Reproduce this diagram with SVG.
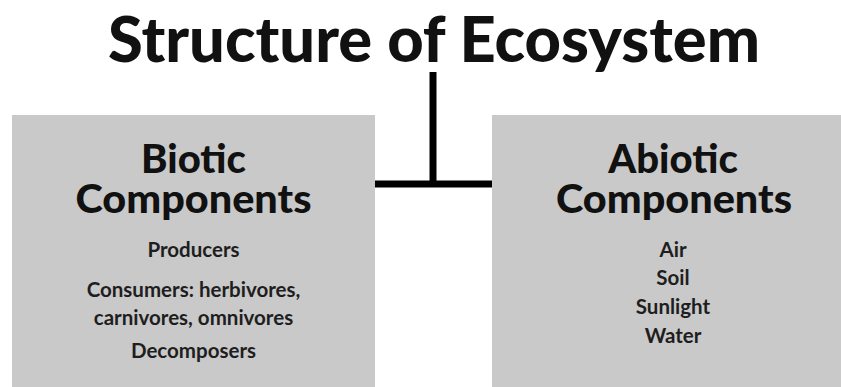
<svg xmlns="http://www.w3.org/2000/svg" width="841" height="387" viewBox="0 0 841 387">
<style>
.box{fill:#c9c9c9}
.title{font-family:Lato,"Liberation Sans",sans-serif;font-weight:900;font-size:62px;fill:#111;text-anchor:middle}
.head{font-family:Lato,"Liberation Sans",sans-serif;font-weight:900;font-size:40px;fill:#111;text-anchor:middle}
.item{font-family:Lato,"Liberation Sans",sans-serif;font-weight:700;font-size:20.5px;fill:#1e1e1e;text-anchor:middle}
.conn{stroke:#000;stroke-width:7;fill:none}
</style>
<rect width="841" height="387" fill="#fff"/>
<g id="title"><text class="title" x="434" y="62" textLength="652" lengthAdjust="spacingAndGlyphs">Structure of Ecosystem</text></g>
<g id="connectors">
<line class="conn" x1="433" y1="72" x2="433" y2="185"/>
<line class="conn" x1="375" y1="184" x2="492" y2="184"/>
</g>
<g id="biotic">
<rect class="box" x="12" y="115" width="363" height="272"/>
<text class="head" x="193.5" y="173">Biotic</text>
<text class="head" x="193.5" y="213" textLength="236" lengthAdjust="spacingAndGlyphs">Components</text>
<text class="item" x="193.5" y="257">Producers</text>
<text class="item" x="193.5" y="297">Consumers: herbivores,</text>
<text class="item" x="193.5" y="325">carnivores, omnivores</text>
<text class="item" x="193.5" y="358">Decomposers</text>
</g>
<g id="abiotic">
<rect class="box" x="492" y="115" width="349" height="272"/>
<text class="head" x="673" y="173">Abiotic</text>
<text class="head" x="674" y="213" textLength="236" lengthAdjust="spacingAndGlyphs">Components</text>
<text class="item" x="673" y="257">Air</text>
<text class="item" x="673" y="285">Soil</text>
<text class="item" x="673" y="314">Sunlight</text>
<text class="item" x="673" y="343">Water</text>
</g>
</svg>
